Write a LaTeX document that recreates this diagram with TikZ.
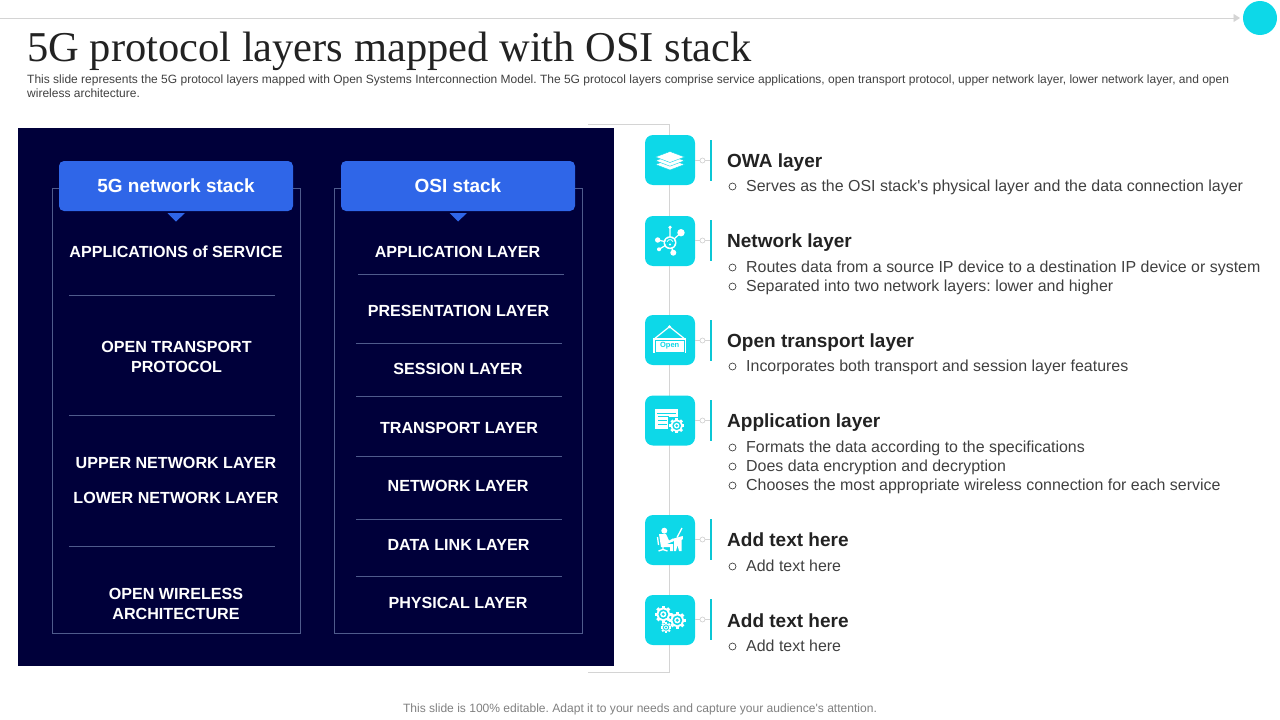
\documentclass[tikz,border=0pt]{standalone}
\usepackage{fontspec}
\setmainfont{Liberation Sans}
\newfontfamily\titlefont{Liberation Serif}
\usetikzlibrary{arrows.meta}
\frenchspacing
\definecolor{navy}{HTML}{00003A}
\definecolor{hdrblue}{HTML}{2F66E8}
\definecolor{cy}{HTML}{0DD8E8}
\definecolor{framec}{HTML}{4F5B8C}
\definecolor{linegray}{HTML}{D4D4D4}
\definecolor{bodyc}{HTML}{404040}
\definecolor{headc}{HTML}{222222}
\tikzset{
 x=1pt,y=-1pt,
 panel/.style={fill=navy,draw=none,minimum width=596pt,minimum height=538pt,inner sep=0pt},
 frame/.style={draw=framec,line width=0.8pt},
 hdr/.style={fill=hdrblue,rounded corners=5pt,minimum width=234pt,minimum height=50pt,inner sep=0pt,text=white,font=\fontsize{19}{22}\selectfont\bfseries},
 stacktxt/.style={text=white,align=center,inner sep=0pt,font=\fontsize{16.1}{19.2}\selectfont\bfseries},
 sep/.style={draw=framec,line width=0.8pt},
 iconbox/.style={fill=cy,rounded corners=8pt,minimum width=50pt,minimum height=50pt,inner sep=0pt},
 barnode/.style={fill=cy!92!black,minimum width=2.2pt,minimum height=41pt,inner sep=0pt},
 dotnode/.style={circle,draw=linegray,fill=white,minimum size=5pt,inner sep=0pt,line width=0.7pt},
 head/.style={anchor=base west,inner sep=0pt,text=headc,font=\fontsize{19}{24}\selectfont\bfseries},
 bodytxt/.style={anchor=base west,inner sep=0pt,text=bodyc,font=\fontsize{15.95}{19}\selectfont},
 bulletc/.style={circle,draw=bodyc,line width=0.7pt,minimum size=7pt,inner sep=0pt},
 conn/.style={draw=linegray,line width=0.9pt},
}
\newcommand{\bul}[3]{\node[bulletc] (#1b) at (732.5,#2+0.5) {};\node[bodytxt] (#1) at (746,#2+5) {#3};}
\newcommand{\geari}[3]{%
 \foreach \a in {0,45,...,315}{\draw[white,line width=#3*0.42pt] (#1,#2) ++(\a:#3*0.82) -- ++(\a:#3*0.32);}
 \fill[white] (#1,#2) circle[radius=#3*0.9];
 \fill[cy] (#1,#2) circle[radius=#3*0.66];
 \fill[white] (#1,#2) circle[radius=#3*0.42];
 \fill[cy] (#1,#2) circle[radius=#3*0.22];}
\begin{document}
\begin{tikzpicture}
\useasboundingbox (0,0) rectangle (1280,720);
% top rule
\coordinate (ruleL) at (0,18);
\node[circle,fill=cy,minimum size=34pt,inner sep=0pt] (topdot) at (1260,18) {};
\draw[draw=linegray,line width=0.9pt,-{Triangle[length=6.5pt,width=8pt,fill=linegray]}] (ruleL) -- (1240,18);
% title
\node[anchor=base west,inner sep=0pt,text=headc,font=\titlefont\fontsize{42.5}{46}\selectfont] (title) at (27,61) {5G protocol layers mapped with OSI stack};
\node[anchor=base west,inner sep=0pt,text=bodyc,font=\fontsize{12}{14}\selectfont,align=left] (sub1) at (27,83) {This slide represents the 5G protocol layers mapped with Open Systems Interconnection Model. The 5G protocol layers comprise service applications, open transport protocol, upper network layer, lower network layer, and open};
\node[anchor=base west,inner sep=0pt,text=bodyc,font=\fontsize{12}{14}\selectfont] (sub2) at (27,97) {wireless architecture.};
% timeline
\coordinate (tlA) at (588,124);
\coordinate (tlB) at (669.5,124);
\coordinate (tlC) at (669.5,672);
\coordinate (tlD) at (588,672);
\draw[conn] (tlA) -- (tlB) -- (tlC) -- (tlD);
% panel
\node[panel,anchor=north west] (pn) at (18,128) {};
\draw[frame] (52.3,188.3) rectangle (300.7,633);
\draw[frame] (334.3,188.3) rectangle (582.7,633);
\node[hdr] (h1) at (176,186) {5G network stack};
\node[hdr] (h2) at (458,186) {OSI stack};
\fill[hdrblue] (167.5,213) -- (185,213) -- (176,221.5) -- cycle;
\fill[hdrblue] (449.5,213) -- (467,213) -- (458,221.5) -- cycle;
% left column
\node[stacktxt] (a1) at (176,252) {APPLICATIONS of SERVICE};
\node[stacktxt] (a2) at (176.5,357) {OPEN TRANSPORT\\PROTOCOL};
\node[stacktxt] (a3) at (176,463) {UPPER NETWORK LAYER};
\node[stacktxt] (a4) at (176,498) {LOWER NETWORK LAYER};
\node[stacktxt] (a5) at (176,604) {OPEN WIRELESS\\ARCHITECTURE};
\draw[sep] (69,295) -- (274.5,295);
\draw[sep] (69,415) -- (274.5,415);
\draw[sep] (69,546) -- (274.5,546);
% right column
\node[stacktxt] (b1) at (457.5,252) {APPLICATION LAYER};
\node[stacktxt] (b2) at (458.5,311) {PRESENTATION LAYER};
\node[stacktxt] (b3) at (458,369) {SESSION LAYER};
\node[stacktxt] (b4) at (459,428) {TRANSPORT LAYER};
\node[stacktxt] (b5) at (458,486) {NETWORK LAYER};
\node[stacktxt] (b6) at (458.5,545) {DATA LINK LAYER};
\node[stacktxt] (b7) at (458,603) {PHYSICAL LAYER};
\draw[sep] (358,274) -- (564,274);
\draw[sep] (356,343) -- (562,343);
\draw[sep] (356,396) -- (562,396);
\draw[sep] (356,456) -- (562,456);
\draw[sep] (356,519) -- (562,519);
\draw[sep] (356,576) -- (562,576);
% icon boxes, bars, connectors
\foreach \n/\iy/\by in {1/160/160.5,2/241/240.5,3/340/340.5,4/420.5/420.5,5/540/539.5,6/620/619.5}{
 \node[iconbox] (ic\n) at (670,\iy) {};
 \node[barnode] (bar\n) at (710.8,\by) {};
 \draw[conn,line width=0.7pt] (ic\n.east |- bar\n) -- (bar\n.west);
 \node[dotnode] (dot\n) at (702.5,\by) {};
}
% icon 1: layers
\begin{scope}[shift={(670,160)}]
 \foreach \d in {4.5,0.7,-3}{
  \fill[white,draw=cy,line width=0.4pt] (-14.5,\d) -- (0,\d-5.5) -- (14.5,\d) -- (0,\d+5.5) -- cycle;}
\end{scope}
% icon 2: network
\begin{scope}[shift={(670,241)}]
 \draw[white,line width=1.2pt] (0,1.7) -- (0,-13.7) (0,1.7) -- (11,-8.3) (0,1.7) -- (-12.3,-1) (0,1.7) -- (-11,8.3) (0,1.7) -- (3.3,11.7);
 \fill[white] (0,-13.7) circle[radius=1.8] (11,-8.3) circle[radius=3.7] (-12.3,-1) circle[radius=2.7] (-11,8.3) circle[radius=2] (3.3,11.7) circle[radius=3];
 \fill[white] (0,1.7) circle[radius=6.5];
 \fill[cy] (0,1.7) circle[radius=5];
 \draw[white,line width=0.8pt] (-3,0.7) arc[start angle=200,end angle=340,radius=3.2];
 \fill[white] (0,3.5) circle[radius=1.1];
\end{scope}
% icon 3: open sign
\begin{scope}[shift={(670,340)}]
 \draw[white,line width=1.2pt] (-15,-1.7) -- (-0.5,-13.3) -- (14,-1.7);
 \fill[white] (-0.5,-13.3) circle[radius=1.6];
 \node[fill=white,minimum width=32.5pt,minimum height=15pt,inner sep=0pt] (opensign) at (-0.3,5.8) {};
 \node[fill=white,draw=cy,line width=0.4pt,minimum width=29.5pt,minimum height=12pt,inner sep=0pt,text=cy,font=\fontsize{7.5}{8}\selectfont\bfseries] (opentxt) at (-0.3,5.8) {Open};
\end{scope}
% icon 4: window and gear
\begin{scope}[shift={(670,420.5)}]
 \fill[white] (-15,-11.5) rectangle (7.7,8.5);
 \fill[cy] (-13.5,-7.4) rectangle (6.2,-6.6);
 \fill[cy] (-12,-4.6) rectangle (-1,-3.6);
 \fill[cy] (-12,-0.8) rectangle (-3,0.2);
 \fill[cy] (-12,3) rectangle (-3,4);
 \fill[cy] (-2.5,-3.5) rectangle (16,14);
 \geari{6.7}{5.2}{6.6}
\end{scope}
% icon 5: person at desk
\begin{scope}[shift={(670,540)}]
 \fill[white] (-5.7,-9.3) circle[radius=3];
 \fill[white] (-11,-6) -- (-4,-6) -- (-1,0.5) -- (3,-1.5) -- (4,1) -- (-3,4) -- (3,4) -- (3,11) -- (0,11) -- (0,7) -- (-9,7) -- cycle;
 \draw[white,line width=1.3pt] (-7,7) -- (-7,10) (-11.5,11) -- (-7,9.5) -- (-2.5,11) (-12.5,-3) -- (-11.5,5);
 \fill[white] (2,-1) -- (12.7,-4) -- (13,-1) -- (11.5,0) -- (11.5,11) -- (9,11) -- (7.5,5) -- (6,11) -- (4,11) -- (4,1) -- cycle;
 \draw[white,line width=1.3pt] (7,-2.5) -- (12,-12);
\end{scope}
% icon 6: gears
\begin{scope}[shift={(670,620)}]
 \geari{-6.7}{-5.7}{7.4}
 \geari{7.3}{0.3}{7.4}
 \geari{-4}{7.5}{4.8}
\end{scope}
% right text
\node[head] (t1) at (727,167) {OWA layer};
\bul{l1}{186}{Serves as the OSI stack\textquotesingle s physical layer and the data connection layer}
\node[head] (t2) at (727,247) {Network layer};
\bul{l2}{267}{Routes data from a source IP device to a destination IP device or system}
\bul{l3}{286}{Separated into two network layers: lower and higher}
\node[head] (t3) at (727,347) {Open transport layer};
\bul{l4}{366}{Incorporates both transport and session layer features}
\node[head] (t4) at (727,427) {Application layer};
\bul{l5}{447}{Formats the data according to the specifications}
\bul{l6}{466}{Does data encryption and decryption}
\bul{l7}{485}{Chooses the most appropriate wireless connection for each service}
\node[head] (t5) at (727,546) {Add text here};
\bul{l8}{566}{Add text here}
\node[head] (t6) at (727,627) {Add text here};
\bul{l9}{646}{Add text here}
% footer
\node[inner sep=0pt,text=gray,font=\fontsize{12.05}{14}\selectfont] (foot) at (640,709) {This slide is 100\% editable. Adapt it to your needs and capture your audience\textquotesingle s attention.};
\end{tikzpicture}
\end{document}
